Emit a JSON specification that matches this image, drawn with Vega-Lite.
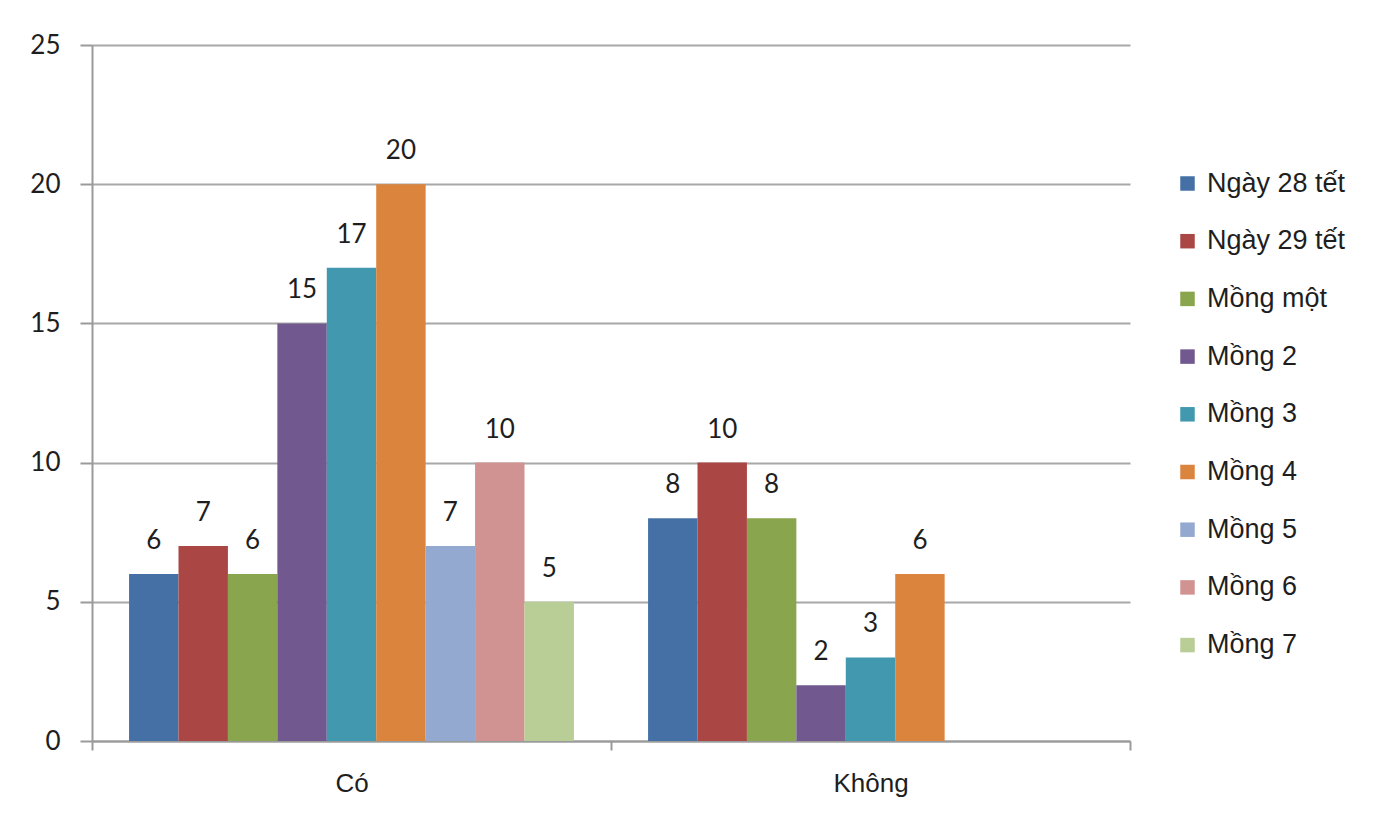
{
  "$schema": "https://vega.github.io/schema/vega-lite/v6.json",
  "width": 1038,
  "height": 696,
  "autosize": {"type": "none"},
  "padding": {"left": 92, "top": 45, "right": 266, "bottom": 75},
  "background": "white",
  "config": {
    "view": {"stroke": null},
    "axis": {"domainColor": "#9a9a9a", "domainWidth": 2, "tickColor": "#9a9a9a", "tickWidth": 2, "gridColor": "#a8a8a8", "gridWidth": 2, "labelColor": "#1e1e1e"}
  },
  "data": {
    "values": [
      {"group": "Có", "day": "Ngày 28 tết", "value": 6},
      {"group": "Có", "day": "Ngày 29 tết", "value": 7},
      {"group": "Có", "day": "Mồng một", "value": 6},
      {"group": "Có", "day": "Mồng 2", "value": 15},
      {"group": "Có", "day": "Mồng 3", "value": 17},
      {"group": "Có", "day": "Mồng 4", "value": 20},
      {"group": "Có", "day": "Mồng 5", "value": 7},
      {"group": "Có", "day": "Mồng 6", "value": 10},
      {"group": "Có", "day": "Mồng 7", "value": 5},
      {"group": "Không", "day": "Ngày 28 tết", "value": 8},
      {"group": "Không", "day": "Ngày 29 tết", "value": 10},
      {"group": "Không", "day": "Mồng một", "value": 8},
      {"group": "Không", "day": "Mồng 2", "value": 2},
      {"group": "Không", "day": "Mồng 3", "value": 3},
      {"group": "Không", "day": "Mồng 4", "value": 6}
    ]
  },
  "encoding": {
    "x": {
      "field": "group", "type": "nominal", "sort": ["Có", "Không"],
      "scale": {"paddingInner": 0, "paddingOuter": 0},
      "axis": {"title": null, "labelAngle": 0, "labelFont": "Liberation Sans", "labelFontSize": 26, "labelPadding": 20, "tickBand": "extent", "tickSize": 9, "grid": false}
    },
    "xOffset": {
      "field": "day", "type": "nominal",
      "scale": {"domain": ["Ngày 28 tết", "Ngày 29 tết", "Mồng một", "Mồng 2", "Mồng 3", "Mồng 4", "Mồng 5", "Mồng 6", "Mồng 7"], "paddingInner": 0, "paddingOuter": 0.75}
    },
    "y": {
      "field": "value", "type": "quantitative",
      "scale": {"domain": [0, 25], "nice": false},
      "axis": {"title": null, "values": [0, 5, 10, 15, 20, 25], "tickSize": 12, "labelPadding": 20, "labelFont": "Lato", "labelFontSize": 26, "grid": true}
    }
  },
  "layer": [
    {
      "mark": {"type": "bar"},
      "encoding": {
        "color": {
          "field": "day", "type": "nominal",
          "scale": {
            "domain": ["Ngày 28 tết", "Ngày 29 tết", "Mồng một", "Mồng 2", "Mồng 3", "Mồng 4", "Mồng 5", "Mồng 6", "Mồng 7"],
            "range": ["#4470a5", "#aa4643", "#89a54e", "#71588f", "#4198af", "#db843d", "#93a9cf", "#d19392", "#b9cd96"]
          },
          "legend": {
            "title": null, "orient": "none", "legendX": 1082, "legendY": 125,
            "symbolType": "square", "symbolSize": 210, "symbolStrokeWidth": 0,
            "labelFont": "Liberation Sans", "labelFontSize": 27, "labelColor": "#1e1e1e",
            "labelOffset": 6, "rowPadding": 29.7, "padding": 0
          }
        }
      }
    },
    {
      "mark": {"type": "text", "baseline": "middle", "dy": -33, "font": "Lato", "fontSize": 26, "color": "#1e1e1e"},
      "encoding": {"text": {"field": "value", "type": "quantitative"}}
    }
  ]
}
